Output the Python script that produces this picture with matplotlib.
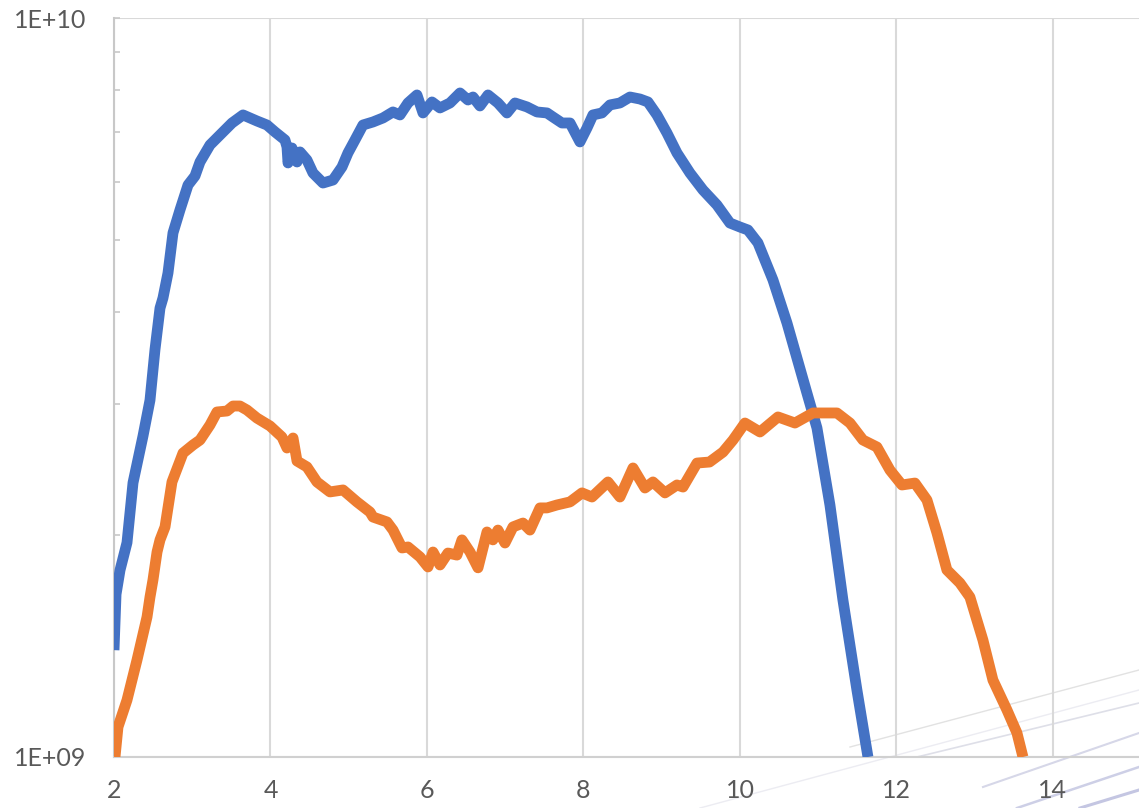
import matplotlib
matplotlib.use("Agg")
import matplotlib.pyplot as plt
from matplotlib.lines import Line2D
from matplotlib.ticker import FixedLocator, FuncFormatter, NullFormatter
import numpy as np

# ---- data (y in units of 1e9) ----
blue_x = [2.000, 2.026, 2.077, 2.166, 2.243, 2.371, 2.460, 2.524, 2.588, 2.626, 2.690, 2.754,
          2.843, 2.946, 3.035, 3.099, 3.227, 3.380, 3.508, 3.649, 3.827, 3.955, 4.058, 4.185,
          4.211, 4.224, 4.275, 4.339, 4.377, 4.466, 4.543, 4.671, 4.799, 4.914, 4.990, 5.080,
          5.182, 5.310, 5.438, 5.565, 5.655, 5.757, 5.872, 5.949, 6.064, 6.166, 6.294, 6.422,
          6.524, 6.588, 6.677, 6.780, 6.907, 7.022, 7.125, 7.278, 7.406, 7.534, 7.610, 7.725,
          7.828, 7.955, 8.045, 8.121, 8.236, 8.339, 8.466, 8.594, 8.722, 8.824, 8.939, 9.067,
          9.195, 9.361, 9.527, 9.706, 9.872, 10.000, 10.102, 10.230, 10.422, 10.601, 10.856,
          10.984, 11.150, 11.316, 11.495, 11.636]
blue_y = [1.395, 1.660, 1.790, 1.950, 2.350, 2.720, 3.040, 3.560, 4.050, 4.180, 4.518, 5.119,
          5.498, 5.943, 6.112, 6.385, 6.733, 6.989, 7.210, 7.393, 7.255, 7.165, 7.011, 6.839,
          6.691, 6.366, 6.670, 6.385, 6.588, 6.425, 6.170, 5.980, 6.036, 6.287, 6.567, 6.839,
          7.165, 7.233, 7.324, 7.462, 7.393, 7.674, 7.868, 7.439, 7.698, 7.556, 7.674, 7.917,
          7.745, 7.818, 7.603, 7.868, 7.674, 7.439, 7.674, 7.580, 7.462, 7.439, 7.346, 7.210,
          7.210, 6.797, 7.099, 7.393, 7.439, 7.627, 7.674, 7.818, 7.769, 7.698, 7.393, 6.989,
          6.567, 6.170, 5.852, 5.585, 5.279, 5.214, 5.166, 4.962, 4.421, 3.866, 3.108,
          2.788, 2.193, 1.631, 1.232, 1.000]

orange_x = [2.013, 2.051, 2.166, 2.294, 2.422, 2.460, 2.498, 2.550, 2.588, 2.652, 2.741, 2.882,
            3.010, 3.099, 3.227, 3.316, 3.444, 3.521, 3.610, 3.700, 3.827, 3.994, 4.147, 4.211,
            4.288, 4.339, 4.466, 4.594, 4.760, 4.927, 5.105, 5.272, 5.310, 5.489, 5.566, 5.681,
            5.757, 5.911, 6.013, 6.077, 6.166, 6.268, 6.383, 6.447, 6.550, 6.652, 6.767, 6.843,
            6.907, 6.997, 7.099, 7.227, 7.316, 7.444, 7.534, 7.661, 7.828, 7.981, 8.109, 8.313,
            8.466, 8.633, 8.786, 8.888, 9.042, 9.195, 9.272, 9.451, 9.611, 9.783, 9.911, 10.064,
            10.256, 10.486, 10.703, 10.933, 11.240, 11.406, 11.572, 11.751, 11.917, 12.070,
            12.236, 12.390, 12.518, 12.645, 12.811, 12.939, 13.105, 13.233, 13.412, 13.540, 13.617]
orange_y = [1.000, 1.098, 1.194, 1.353, 1.547, 1.646, 1.736, 1.894, 1.967, 2.048, 2.356, 2.578,
            2.644, 2.685, 2.814, 2.930, 2.939, 2.985, 2.985, 2.948, 2.875, 2.805, 2.710, 2.619,
            2.702, 2.515, 2.469, 2.356, 2.284, 2.298, 2.214, 2.145, 2.112, 2.080, 2.028, 1.918,
            1.924, 1.865, 1.808, 1.894, 1.819, 1.888, 1.876, 1.967, 1.894, 1.803, 2.016, 1.967,
            2.028, 1.948, 2.048, 2.073, 2.028, 2.173, 2.173, 2.193, 2.214, 2.277, 2.248, 2.356,
            2.248, 2.461, 2.312, 2.356, 2.277, 2.334, 2.319, 2.499, 2.507, 2.586, 2.685, 2.831,
            2.753, 2.885, 2.831, 2.921, 2.921, 2.831, 2.685, 2.627, 2.445, 2.334,
            2.348, 2.227, 2.010, 1.791, 1.720, 1.646, 1.440, 1.271, 1.158, 1.078, 1.000]

x_ticks = [2, 4, 6, 8, 10, 12, 14]
y_major = [1e9, 1e10]
y_minor = [2e9, 3e9, 4e9, 5e9, 6e9, 7e9, 8e9, 9e9]
UNIT = 1e9

BLUE = "#4472C4"
ORANGE = "#ED7D31"
GRID = "#D9D9D9"
TEXT = "#595959"

plt.rcParams["font.family"] = ["Lato", "DejaVu Sans"]

fig = plt.figure(figsize=(11.39, 8.08), dpi=100)
ax = fig.add_axes([114 / 1139, 1 - 757 / 808, 1 - 114 / 1139, (757 - 18) / 808])

# faint background decorative diagonal strokes (bottom right)
deco = [((850, 747), (1139, 670), "#e2e2e2", 1.0),
        ((917, 757), (1139, 703), "#dedfe8", 1.2),
        ((983, 787), (1139, 733), "#d6d7e8", 1.5),
        ((1017, 808), (1139, 767), "#cdcfe6", 1.8),
        ((1080, 808), (1139, 790), "#c4c6e2", 2.2),
        ((700, 808), (1139, 690), "#ececf2", 1.0)]
for (x0, y0), (x1, y1), c, lw in deco:
    fig.add_artist(Line2D([x0 / 1139, x1 / 1139], [1 - y0 / 808, 1 - y1 / 808],
                          color=c, lw=lw, zorder=0, transform=fig.transFigure))

ax.set_facecolor("none")
ax.set_yscale("log")
ax.set_xlim(2, 15.1)
ax.set_ylim(1e9, 1e10)

ax.plot(np.array(blue_x), np.array(blue_y) * UNIT, color=BLUE, lw=7.8,
        solid_joinstyle="round", solid_capstyle="butt", zorder=3)
ax.plot(np.array(orange_x), np.array(orange_y) * UNIT, color=ORANGE, lw=7.8,
        solid_joinstyle="round", solid_capstyle="butt", zorder=3)

ax.xaxis.set_major_locator(FixedLocator(x_ticks))
ax.yaxis.set_major_locator(FixedLocator(y_major))
ax.yaxis.set_minor_locator(FixedLocator(y_minor))
ax.yaxis.set_minor_formatter(NullFormatter())
ax.yaxis.set_major_formatter(FuncFormatter(lambda v, p: "1E+%02d" % int(round(np.log10(v)))))

ax.grid(True, axis="x", color=GRID, lw=1.5, zorder=1)
ax.grid(True, axis="y", which="major", color=GRID, lw=1.5, zorder=1)

for s in ["top", "right"]:
    ax.spines[s].set_visible(False)
ax.spines["left"].set_color("#C8C8C8")
ax.spines["left"].set_linewidth(1.5)
ax.spines["bottom"].set_color("#D0D0D0")
ax.spines["bottom"].set_linewidth(1.5)

ax.tick_params(axis="x", length=0, pad=16, labelsize=18, labelcolor=TEXT)
ax.tick_params(axis="y", which="major", direction="in", length=4, width=1.2, color="#C8C8C8",
               pad=20, labelsize=18, labelcolor=TEXT)
ax.tick_params(axis="y", which="minor", direction="in", length=4, width=1.2, color="#C8C8C8")

fig.savefig("out.png", dpi=100)
